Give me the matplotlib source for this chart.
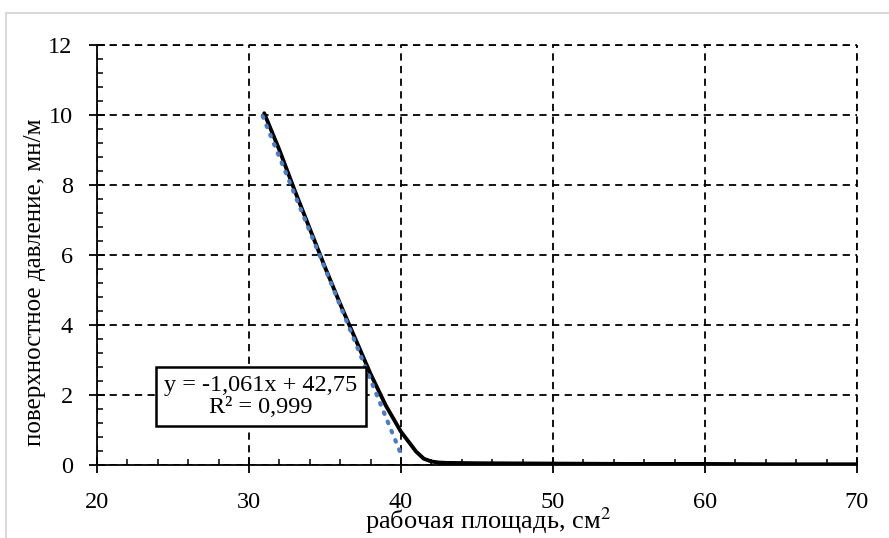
import matplotlib
matplotlib.use("Agg")
import matplotlib.pyplot as plt
import numpy as np
from matplotlib.patches import Rectangle
from matplotlib.ticker import MultipleLocator

plt.rcParams['font.family'] = ['Liberation Serif', 'DejaVu Serif']
plt.rcParams['mathtext.fontset'] = 'stix'

# data
area = [31, 32, 33, 34, 35, 36, 37, 38, 39, 40, 41, 41.5, 42, 42.5, 43, 45, 50, 55, 60, 65, 70]
pressure = [10.05, 9.0, 7.85, 6.75, 5.65, 4.6, 3.6, 2.6, 1.7, 0.95, 0.38, 0.18, 0.1, 0.07,
            0.06, 0.05, 0.04, 0.03, 0.03, 0.02, 0.02]
slope = -1.061
intercept = 42.75
trend_x = [30.9, 40.1]
xticks = [20, 30, 40, 50, 60, 70]
yticks = [0, 2, 4, 6, 8, 10, 12]
eq_text = "y = -1,061x + 42,75\nR² = 0,999"

fig = plt.figure(figsize=(8.89, 5.38), dpi=100)
fig.patches.append(Rectangle((6/889, -0.1), 1.2, 1 - 13/538 + 0.1, transform=fig.transFigure,
                             fill=False, edgecolor='#d9d9d9', linewidth=1.5))
ax = fig.add_axes([97/889, 1 - 465/538, 760/889, 420/538])

tx = np.array(trend_x)
ax.plot(tx, slope * tx + intercept, color='#4a7cc9', linestyle=(0, (0.4, 2.0)),
        linewidth=3.0, dash_capstyle='round', zorder=4)
ax.plot(area, pressure, color='black', linewidth=2.8, zorder=3,
        solid_capstyle='round', solid_joinstyle='round')

ax.set_xlim(20, 70)
ax.set_ylim(0, 12)
ax.set_xticks(xticks)
ax.set_yticks(yticks)
ax.xaxis.set_minor_locator(MultipleLocator(2))
ax.yaxis.set_minor_locator(MultipleLocator(0.4))
ax.tick_params(which='major', direction='inout', length=11, width=1.3, labelsize=17.5)
ax.tick_params(axis='x', which='major', pad=14)
ax.tick_params(axis='y', which='major', pad=12)
ax.tick_params(which='minor', direction='in', length=4, width=1.1)

ax.grid(True, which='major', color='black', linestyle=(0, (4, 3)), linewidth=1.3)
for s in ['top', 'right']:
    ax.spines[s].set_visible(False)
for s in ['left', 'bottom']:
    ax.spines[s].set_linewidth(1.3)
ax.axhline(12, color='black', linestyle=(0, (4, 3)), linewidth=1.3, clip_on=False)
ax.axvline(70, color='black', linestyle=(0, (4, 3)), linewidth=1.3, clip_on=False)

ax.set_xlabel('рабочая площадь, см$^2$', fontsize=19)
ax.set_ylabel('поверхностное давление, мн/м', fontsize=18)
ax.xaxis.set_label_coords((488 - 97) / 760, (465 - 529) / 420)
ax.yaxis.set_label_coords((35 - 97) / 760, (465 - 282) / 420)
ax.xaxis.label.set_va('baseline')
ax.yaxis.label.set_va('center')

ax.text((261 - 97) / 760, (465 - 396.5) / 420, eq_text, transform=ax.transAxes,
        ha='center', va='center', fontsize=17.5, linespacing=1.1, zorder=5,
        bbox=dict(boxstyle='square,pad=0.33', facecolor='white', edgecolor='black', linewidth=1.8))

fig.savefig('out.png', dpi=100)
